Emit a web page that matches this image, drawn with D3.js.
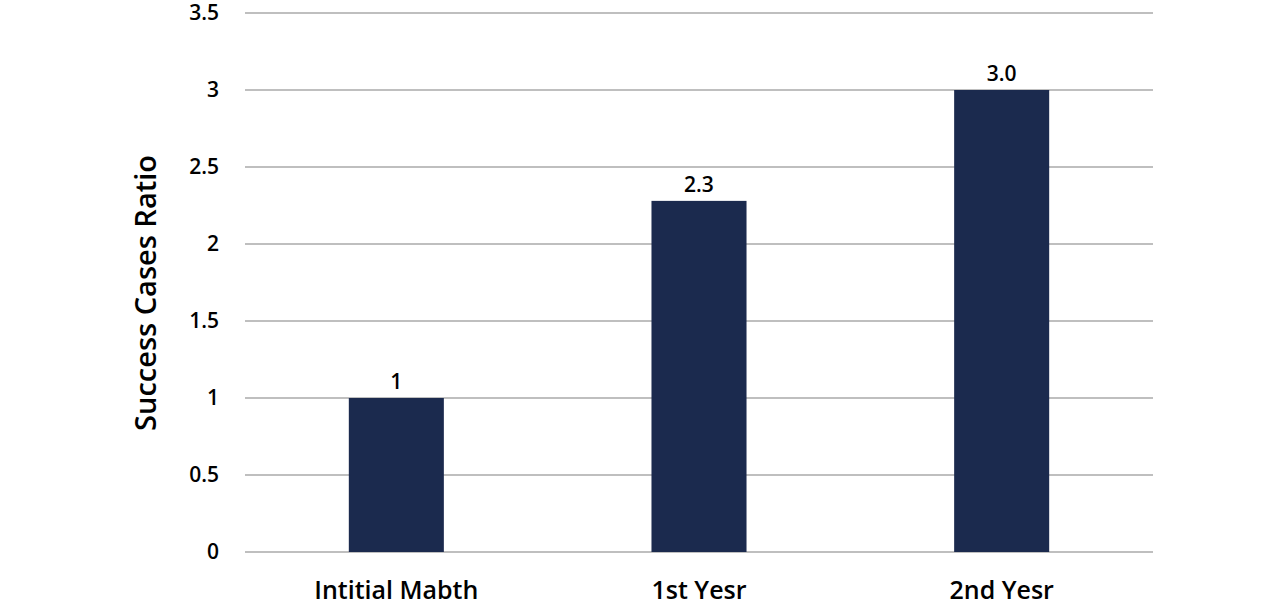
<!DOCTYPE html>
<html><head><meta charset="utf-8">
<script src="https://cdn.jsdelivr.net/npm/d3@7"></script>
<style>body{margin:0;background:#fff}text{font-family:"Open Sans","Noto Sans",sans-serif;font-weight:600}</style>
</head><body><svg id="chart" width="1284" height="606"></svg>
<script>
// chart data
const categories = ["Intitial Mabth", "1st Yesr", "2nd Yesr"];
const values = [1, 2.28, 3.0];
const valueLabels = ["1", "2.3", "3.0"];
const yTicks = [0, 0.5, 1, 1.5, 2, 2.5, 3, 3.5];

const svg = d3.select("#chart");
const x = d3.scaleBand().domain(categories).range([245, 1153]).paddingInner(0.686).paddingOuter(0.343);
const y = d3.scaleLinear().domain([0, 3.5]).range([552, 13]);

// gridlines
svg.append("g").selectAll("line").data(yTicks).enter().append("line")
    .attr("x1", 245).attr("x2", 1153)
    .attr("y1", d => y(d)).attr("y2", d => y(d))
    .attr("stroke", "#bfbfbf").attr("stroke-width", 2);

// y tick labels
svg.append("g").selectAll("text").data(yTicks).enter().append("text")
    .attr("x", 219).attr("y", d => y(d)).attr("dy", "0.35em")
    .attr("text-anchor", "end").attr("font-size", 21).attr("fill", "#000")
    .text(d => d);

// bars
svg.append("g").selectAll("rect").data(values).enter().append("rect")
    .attr("x", (d, i) => x(categories[i])).attr("width", x.bandwidth())
    .attr("y", d => y(d)).attr("height", d => y(0) - y(d))
    .attr("fill", "#1b2a4e");

// value labels
svg.append("g").selectAll("text").data(values).enter().append("text")
    .attr("x", (d, i) => x(categories[i]) + x.bandwidth() / 2)
    .attr("y", d => y(d) - 9)
    .attr("text-anchor", "middle").attr("font-size", 21).attr("fill", "#000")
    .text((d, i) => valueLabels[i]);

// x labels
svg.append("g").selectAll("text").data(categories).enter().append("text")
    .attr("x", d => x(d) + x.bandwidth() / 2).attr("y", 599)
    .attr("text-anchor", "middle").attr("font-size", 25).attr("fill", "#000")
    .text(d => d);

// y axis title
svg.append("text")
    .attr("transform", "translate(156,293) rotate(-90)")
    .attr("text-anchor", "middle").attr("font-size", 29).attr("fill", "#000")
    .text("Success Cases Ratio");
</script></body></html>
